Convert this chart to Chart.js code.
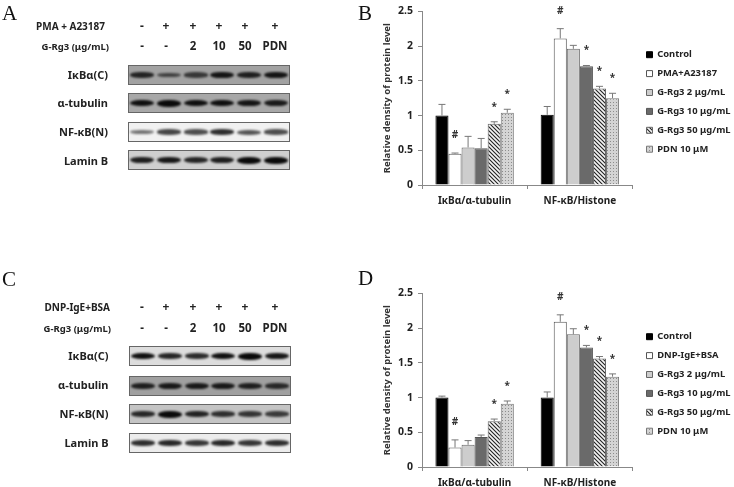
<!DOCTYPE html>
<html>
<head>
<meta charset="utf-8">
<script src="https://cdn.jsdelivr.net/npm/chart.js@4/dist/chart.umd.min.js"></script>
<style>
  html, body { margin: 0; background: #fff; }
  #page { position: relative; width: 734px; height: 487px; overflow: hidden; font-family: "Noto Sans", sans-serif; font-weight: 700; color: #222; filter: blur(0.35px); }
  #page canvas { position: absolute; left: 370px; width: 364px; }
  .letter { position: absolute; font: 400 21px "Liberation Serif", serif; color: #111; }
  .txt { position: absolute; white-space: nowrap; line-height: 1; }
  .blot { position: absolute; width: 160px; height: 18px; border: 1px solid #666; display: flex; overflow: hidden; }
  .lane { flex: 1; display: flex; align-items: center; justify-content: center; }
  .band { width: 24px; border-radius: 45%; filter: blur(1.1px); }
</style>
</head>
<body>
<div id="page">
  <canvas id="chartB"></canvas>
  <canvas id="chartD"></canvas>
</div>
<script>
// bar chart data
const categories = ["IκBα/α-tubulin", "NF-κB/Histone"];
const groupLabels = ["Control", "G-Rg3 2 μg/mL", "G-Rg3 10 μg/mL", "G-Rg3 50 μg/mL", "PDN 10 μM"];
const tickValues = [0, 0.5, 1, 1.5, 2, 2.5];
const tickLabels = ["0", "0.5", "1", "1.5", "2", "2.5"];

const controlB = [1.00, 1.01];
const stimB = [0.45, 2.11];
const rg2B = [0.54, 1.96];
const rg10B = [0.53, 1.71];
const rg50B = [0.88, 1.39];
const pdnB = [1.04, 1.25];
const errControlB = [0.16, 0.12];
const errStimB = [0.01, 0.14];
const errRg2B = [0.16, 0.05];
const errRg10B = [0.14, 0.01];
const errRg50B = [0.03, 0.03];
const errPdnB = [0.05, 0.07];

const controlD = [1.00, 1.00];
const stimD = [0.28, 2.09];
const rg2D = [0.32, 1.91];
const rg10D = [0.43, 1.72];
const rg50D = [0.66, 1.56];
const pdnD = [0.91, 1.30];
const errControlD = [0.02, 0.08];
const errStimD = [0.11, 0.10];
const errRg2D = [0.06, 0.08];
const errRg10D = [0.03, 0.03];
const errRg50D = [0.03, 0.03];
const errPdnD = [0.04, 0.04];

// significance marks per group
const marksStim = ["#", "#"];
const marksRg2 = ["", ""];
const marksRg10 = ["", "*"];
const marksRg50 = ["*", "*"];
const marksPdn = ["*", "*"];
const marksNone = ["", ""];

// blot band strengths, one per lane
const blotRows = ["IκBα(C)", "α-tubulin", "NF-κB(N)", "Lamin B"];
const blotA = [
  [0.75, 0.45, 0.55, 0.9, 0.8, 0.9],
  [0.95, 1, 0.95, 0.95, 0.9, 0.85],
  [0.3, 0.6, 0.55, 0.75, 0.5, 0.55],
  [0.85, 0.9, 0.8, 0.85, 1, 1]
];
const blotC = [
  [0.95, 0.8, 0.75, 0.95, 1, 0.9],
  [0.8, 0.85, 0.85, 0.85, 0.8, 0.7],
  [0.75, 1, 0.8, 0.7, 0.65, 0.6],
  [0.75, 0.8, 0.7, 0.8, 0.7, 0.75]
];
const headerSigns = ["-", "+", "+", "+", "+", "+"];
const headerDoses = ["-", "-", "2", "10", "50", "PDN"];

const page = document.getElementById("page");
const uiFont = '"Noto Sans", sans-serif';

/* ── Fill patterns ── */
function tile(size, bg, draw) {
  const c = document.createElement("canvas");
  c.width = c.height = size;
  const g = c.getContext("2d");
  g.fillStyle = bg;
  g.fillRect(0, 0, size, size);
  draw(g);
  return g.createPattern(c, "repeat");
}

const hatch = tile(4, "#f4f4f4", (g) => {
  g.strokeStyle = "#222";
  g.lineWidth = 1.1;
  g.beginPath();
  g.moveTo(-1, 3); g.lineTo(1, 5);
  g.moveTo(0, 0); g.lineTo(4, 4);
  g.moveTo(3, -1); g.lineTo(5, 1);
  g.stroke();
});

const dots = tile(3, "#d4d4d4", (g) => {
  g.fillStyle = "#8c8c8c";
  g.fillRect(0, 0, 1, 1);
});

/* ── Error bars and # / * marks ── */
const errorMarks = {
  id: "errorMarks",
  afterDatasetsDraw(chart) {
    const { ctx, scales } = chart;
    ctx.save();
    chart.data.datasets.forEach((ds, i) => {
      chart.getDatasetMeta(i).data.forEach((bar, j) => {
        const top = scales.y.getPixelForValue(ds.data[j] + ds.errors[j]);
        ctx.strokeStyle = "#777";
        ctx.lineWidth = 1;
        ctx.beginPath();
        ctx.moveTo(bar.x, bar.y);
        ctx.lineTo(bar.x, top);
        ctx.moveTo(bar.x - 3.5, top);
        ctx.lineTo(bar.x + 3.5, top);
        ctx.stroke();
        if (ds.marks[j]) {
          ctx.fillStyle = "#333";
          ctx.font = "700 10px " + uiFont;
          ctx.textAlign = "center";
          ctx.textBaseline = "middle";
          ctx.fillText(ds.marks[j], bar.x, top - (ds.marks[j] === "#" ? 18 : 15));
        }
      });
    });
    ctx.restore();
  },
  afterLayout(chart) {
    // legend sits lower than the default, next to the bars; widen its clip box too
    chart.legend.left = 267;
    chart.legend.right = chart.width;
    chart.legend.top = chart.options.layout.legendTop;
  }
};

function series(label, data, errors, marks, backgroundColor, borderColor) {
  return { label, data, errors, marks, backgroundColor, borderColor, borderWidth: 1, categoryPercentage: 0.745, barPercentage: 1 };
}

function makeChart(id, top, height, sets) {
  const canvas = document.getElementById(id);
  canvas.style.top = top + "px";
  canvas.style.height = height + "px";
  canvas.width = 364;
  canvas.height = height;
  new Chart(canvas, {
    type: "bar",
    data: { labels: categories, datasets: sets },
    plugins: [errorMarks],
    options: {
      responsive: false,
      animation: false,
      devicePixelRatio: 1,
      layout: { padding: { top: 5, right: 14 }, legendTop: 40.5 },
      plugins: {
        tooltip: { enabled: false },
        legend: {
          position: "right",
          align: "start",
          labels: {
            boxWidth: 6,
            boxHeight: 6,
            padding: 9.5,
            color: "#222",
            font: { family: uiFont, size: 9.4, weight: "700" },
          },
        },
      },
      scales: {
        x: {
          grid: { drawOnChartArea: false, tickLength: 4, color: "#888" },
          border: { color: "#888" },
          ticks: { color: "#222", padding: 6, maxRotation: 0, font: { family: uiFont, size: 10, weight: "700" } },
          afterFit: (s) => { s.height = height - 185; },
        },
        y: {
          min: 0,
          max: 2.5,
          grid: { drawOnChartArea: false, tickLength: 4, color: "#888" },
          border: { color: "#888" },
          afterBuildTicks: (s) => { s.ticks = tickValues.map((value) => ({ value })); },
          ticks: {
            color: "#222",
            padding: 5,
            font: { family: uiFont, size: 10.5, weight: "700" },
            callback: (v) => tickLabels[tickValues.indexOf(v)],
          },
          title: {
            display: true,
            text: "Relative density of protein level",
            color: "#333",
            padding: { top: 12, bottom: 0 },
            font: { family: uiFont, size: 9.5, weight: "700" },
          },
          afterFit: (s) => { s.width = 52; },
        },
      },
    },
  });
}

makeChart("chartB", 0, 215, [
  series(groupLabels[0], controlB, errControlB, marksNone, "#000", "#000"),
  series("PMA+A23187", stimB, errStimB, marksStim, "#fff", "#555"),
  series(groupLabels[1], rg2B, errRg2B, marksRg2, "#cdcdcd", "#666"),
  series(groupLabels[2], rg10B, errRg10B, marksRg10, "#6a6a6a", "#555"),
  series(groupLabels[3], rg50B, errRg50B, marksRg50, hatch, "#666"),
  series(groupLabels[4], pdnB, errPdnB, marksPdn, dots, "#777"),
]);

makeChart("chartD", 282, 205, [
  series(groupLabels[0], controlD, errControlD, marksNone, "#000", "#000"),
  series("DNP-IgE+BSA", stimD, errStimD, marksStim, "#fff", "#555"),
  series(groupLabels[1], rg2D, errRg2D, marksRg2, "#cdcdcd", "#666"),
  series(groupLabels[2], rg10D, errRg10D, marksRg10, "#6a6a6a", "#555"),
  series(groupLabels[3], rg50D, errRg50D, marksRg50, hatch, "#666"),
  series(groupLabels[4], pdnD, errPdnD, marksPdn, dots, "#777"),
]);

/* ── Western blot panels (page furniture, not chart marks) ── */
function addText(text, x, y, size, align) {
  const el = document.createElement("div");
  el.className = "txt";
  el.textContent = text;
  el.style.top = y - size / 2 + "px";
  el.style.fontSize = size + "px";
  if (align === "right") el.style.right = 734 - x + "px";
  else if (align === "center") { el.style.left = x + "px"; el.style.transform = "translateX(-50%)"; }
  else el.style.left = x + "px";
  page.appendChild(el);
}

function addLetter(text, x, y) {
  const el = document.createElement("div");
  el.className = "letter";
  el.textContent = text;
  el.style.left = x + "px";
  el.style.top = y + "px";
  page.appendChild(el);
}

function addBlot(left, rowTops, rowColors, bands) {
  rowTops.forEach((top, r) => {
    const blot = document.createElement("div");
    blot.className = "blot";
    blot.style.left = left + "px";
    blot.style.top = top + "px";
    blot.style.background = rowColors[r];
    bands[r].forEach((s) => {
      const lane = document.createElement("div");
      lane.className = "lane";
      const band = document.createElement("div");
      band.className = "band";
      band.style.height = 3 + 4 * s + "px";
      band.style.background = `rgba(10,10,10,${0.35 + 0.65 * s})`;
      lane.appendChild(band);
      blot.appendChild(lane);
    });
    page.appendChild(blot);
  });
}

const laneX = [142, 166, 193, 219, 245, 275];

addLetter("A", 2, 1);
addLetter("B", 358, 1);
addLetter("C", 2, 267);
addLetter("D", 358, 266);

addText("PMA + A23187", 105, 26, 10, "right");
addText("G-Rg3 (μg/mL)", 109, 47, 9.5, "right");
addText("DNP-IgE+BSA", 110, 307, 10, "right");
addText("G-Rg3 (μg/mL)", 111, 329, 9.5, "right");

laneX.forEach((x, i) => {
  addText(headerSigns[i], x, 26, 12, "center");
  addText(headerDoses[i], x, 46, 11.5, "center");
  addText(headerSigns[i], x, 307, 12, "center");
  addText(headerDoses[i], x, 328, 11.5, "center");
});

[74, 102, 131, 160].forEach((y, i) => addText(blotRows[i], 108, y, 11, "right"));
[355, 384, 413, 442].forEach((y, i) => addText(blotRows[i], 108.5, y, 11, "right"));

addBlot(128, [65, 93, 122, 150], ["#a2a2a2", "#a8a8a8", "#f1f1f1", "#cfcfcf"], blotA);
addBlot(129, [346, 376, 404, 433], ["#dddddd", "#a0a0a0", "#c4c4c4", "#ececec"], blotC);
</script>
</body>
</html>
